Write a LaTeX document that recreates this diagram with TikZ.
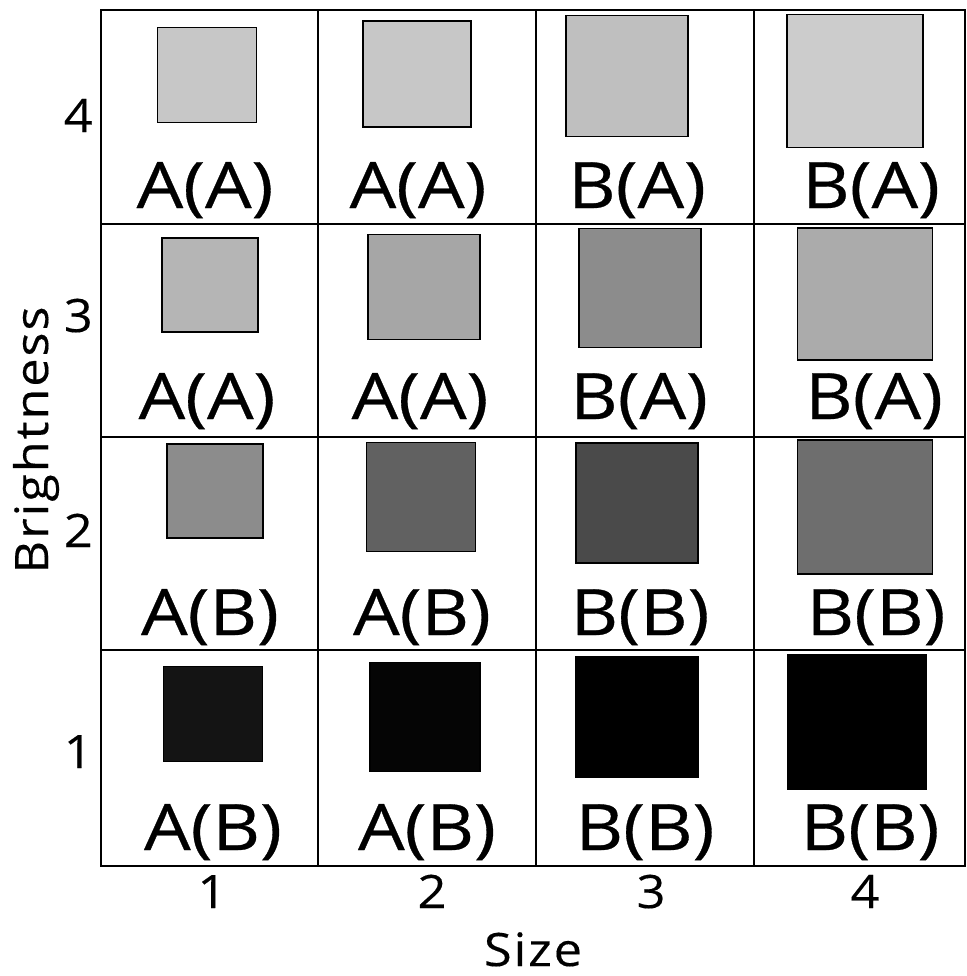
\documentclass[tikz,border=0pt]{standalone}
\usepackage{fontspec}
\setmainfont{Open Sans}
\newfontfamily\cellfont[FakeStretch=1.15,FakeBold=0.5]{Open Sans}
\newfontfamily\axisfont[FakeStretch=1.1,LetterSpace=4,FakeBold=0.3]{Open Sans}
\newcommand\mysq[6]{\node[sq, fill=#5, minimum width=#3*0.75pt, minimum height=#4*0.75pt] (#6) at (#1,#2) {};}
\begin{document}
\begin{tikzpicture}[x=0.75pt,y=-0.75pt,
  gridline/.style={line width=1.9pt, line cap=rect},
  sq/.style={draw=black, line width=1.4pt, inner sep=0pt, outer sep=0pt},
  lab/.style={font=\cellfont\fontsize{48}{50}\selectfont, anchor=base, inner sep=0pt},
  tick/.style={font=\axisfont\fontsize{34.5}{36}\selectfont, anchor=base, inner sep=0pt}]
\useasboundingbox (0,0) rectangle (967,976);
% grid
\draw[gridline] (101,10) rectangle (965,866);
\foreach \x in {318,536,754} \draw[gridline] (\x,10) -- (\x,866);
\foreach \y in {224,437,650} \draw[gridline] (101,\y) -- (965,\y);
% squares: row 4 (top)
\mysq{207}{75}{99}{95}{black!22}{s41}
\mysq{417}{74}{108}{106}{black!22}{s42}
\mysq{627}{76}{122}{121}{black!25}{s43}
\mysq{855}{81}{136}{133}{black!20}{s44}
% row 3
\mysq{210}{285}{96}{94}{black!29}{s31}
\mysq{424}{287}{112}{105}{black!35}{s32}
\mysq{640}{288}{122}{119}{black!45}{s33}
\mysq{865}{294}{135}{132}{black!33}{s34}
% row 2
\mysq{215}{491}{96}{94}{black!45}{s21}
\mysq{421}{497}{109}{109}{black!62}{s22}
\mysq{637}{503}{122}{120}{black!71}{s23}
\mysq{865}{507}{135}{134}{black!57}{s24}
% row 1
\mysq{213}{714}{99}{95}{black!92}{s11}
\mysq{425}{717}{110}{109}{black!98}{s12}
\mysq{637}{717}{123}{121}{black}{s13}
\mysq{857}{722}{138}{135}{black}{s14}
% cell labels
\node[lab] (l41) at (205,208) {A(A)};
\node[lab] (l42) at (418,208) {A(A)};
\node[lab] (l43) at (637,208) {B(A)};
\node[lab] (l44) at (871,208) {B(A)};
\node[lab] (l31) at (207,419) {A(A)};
\node[lab] (l32) at (420,419) {A(A)};
\node[lab] (l33) at (639,419) {B(A)};
\node[lab] (l34) at (874,419) {B(A)};
\node[lab] (l21) at (210,635) {A(B)};
\node[lab] (l22) at (422,635) {A(B)};
\node[lab] (l23) at (640,635) {B(B)};
\node[lab] (l24) at (876,635) {B(B)};
\node[lab] (l11) at (213,850) {A(B)};
\node[lab] (l12) at (427,850) {A(B)};
\node[lab] (l13) at (645,850) {B(B)};
\node[lab] (l14) at (870,850) {B(B)};
% y axis ticks
\node[tick, anchor=base east] (y4) at (93,132) {4};
\node[tick, anchor=base east] (y3) at (93,332) {3};
\node[tick, anchor=base east] (y2) at (93,547) {2};
\node[tick, anchor=base east] (y1) at (93,768) {1};
% x axis ticks
\node[tick] (x1) at (212,908) {1};
\node[tick] (x2) at (432,908) {2};
\node[tick] (x3) at (651,908) {3};
\node[tick] (x4) at (865,908) {4};
% axis titles
\node[tick] (xt) at (533,966) {Size};
\node[tick, rotate=90] (yt) at (48,440) {Brightness};
\end{tikzpicture}
\end{document}
